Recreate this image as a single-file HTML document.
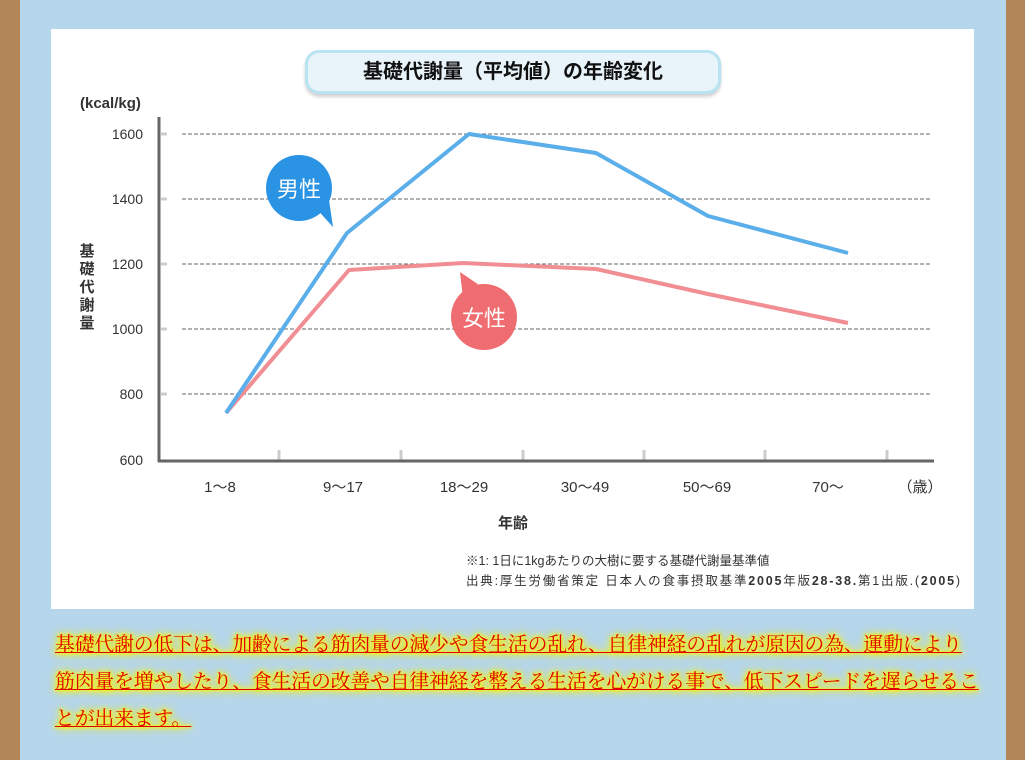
<!DOCTYPE html>
<html><head><meta charset="utf-8"><style>
html,body{margin:0;padding:0}
body{width:1025px;height:760px;position:relative;overflow:hidden;background:#b6d6ec;font-family:"Liberation Sans","Noto Sans CJK JP",sans-serif}
.brownL{position:absolute;left:0;top:0;width:20px;height:760px;background:#b3865a}
.brownR{position:absolute;left:1006px;top:0;width:19px;height:760px;background:#b3865a}
.panel{position:absolute;left:51px;top:29px;width:923px;height:580px;background:#fff}
.title{position:absolute;left:305px;top:50px;width:410px;height:38px;border:3px solid #b8e4f1;border-radius:14px;background:#e8f4f9;box-shadow:0 3px 3px rgba(0,0,0,.18);text-align:center;font-weight:bold;font-size:20px;line-height:38px;color:#111}
.txt{position:absolute;left:55px;top:627px;width:950px;font-family:"Liberation Serif","Noto Serif CJK SC",serif;font-size:19.9px;letter-spacing:-0.2px;line-height:37px;color:#e00000;text-decoration:underline;text-shadow:0 0 2px #f0f020,0 0 3px #f0f020,0 0 5px #f0f020,0 0 7px #f0f020,0 0 9px #f0f020,0 0 11px #eef020;white-space:nowrap}
</style></head><body>
<div class="brownL"></div><div class="brownR"></div>
<div class="panel"></div>
<div class="title">基礎代謝量（平均値）の年齢変化</div>
<svg width="1025" height="760" style="position:absolute;left:0;top:0" font-family="Liberation Sans, Noto Sans CJK JP, sans-serif">
<text x="80" y="108" font-size="15" font-weight="bold" fill="#333">(kcal/kg)</text>
<g stroke="#666" stroke-width="1" stroke-dasharray="4,2">
<line x1="182" y1="134" x2="930" y2="134"/><line x1="182" y1="199" x2="930" y2="199"/>
<line x1="182" y1="264" x2="930" y2="264"/><line x1="182" y1="329" x2="930" y2="329"/>
<line x1="182" y1="394" x2="930" y2="394"/></g>
<g stroke="#ccc" stroke-width="3"><line x1="161" y1="134" x2="167" y2="134"/><line x1="161" y1="199" x2="167" y2="199"/><line x1="161" y1="264" x2="167" y2="264"/><line x1="161" y1="329" x2="167" y2="329"/><line x1="161" y1="394" x2="167" y2="394"/>
<line x1="279" y1="450" x2="279" y2="460"/><line x1="401" y1="450" x2="401" y2="460"/><line x1="523" y1="450" x2="523" y2="460"/><line x1="644" y1="450" x2="644" y2="460"/><line x1="765" y1="450" x2="765" y2="460"/><line x1="887" y1="450" x2="887" y2="460"/></g>
<line x1="159" y1="117" x2="159" y2="462" stroke="#666" stroke-width="3"/>
<line x1="158" y1="461" x2="934" y2="461" stroke="#666" stroke-width="3"/>
<g font-size="14" fill="#333" text-anchor="end"><text x="143" y="139">1600</text><text x="143" y="204">1400</text><text x="143" y="269">1200</text><text x="143" y="334">1000</text><text x="143" y="399">800</text><text x="143" y="465">600</text></g>
<g font-size="15" font-weight="bold" fill="#333" text-anchor="middle"><text x="87" y="256">基</text><text x="87" y="274">礎</text><text x="87" y="292">代</text><text x="87" y="310">謝</text><text x="87" y="328">量</text></g>
<g font-size="15" fill="#333" text-anchor="middle"><text x="220" y="492">1〜8</text><text x="343" y="492">9〜17</text><text x="464" y="492">18〜29</text><text x="585" y="492">30〜49</text><text x="707" y="492">50〜69</text><text x="828" y="492">70〜</text><text x="920" y="492">（歳）</text></g>
<text x="513" y="528" font-size="15" font-weight="bold" fill="#333" text-anchor="middle">年齢</text>
<text x="466" y="565" font-size="12.5" fill="#333">※1:  1日に1kgあたりの大樹に要する基礎代謝量基準値</text>
<text x="466" y="585" font-size="12.5" fill="#333" textLength="494" lengthAdjust="spacing">出典:厚生労働省策定  日本人の食事摂取基準<tspan font-weight="bold">2005</tspan>年版<tspan font-weight="bold">28-38.</tspan>第1出版.(<tspan font-weight="bold">2005</tspan>)</text>
<polyline points="226,413 349,270 463,263 596,269 708,294 848,323" fill="none" stroke="#f08e93" stroke-width="4" stroke-linejoin="round"/>
<polyline points="226,413 347,233 469,134 596,153 708,216 848,253" fill="none" stroke="#5aaee9" stroke-width="4" stroke-linejoin="round"/>
<circle cx="299" cy="188" r="33" fill="#2a93e3"/><polygon points="314,206 329,200 333,227" fill="#2a93e3"/>
<text x="299" y="197" font-size="22" fill="#fff" text-anchor="middle">男性</text>
<circle cx="484" cy="317" r="33" fill="#ef6d70"/><polygon points="460,272 482,287 463,298" fill="#ef6d70"/>
<text x="484" y="326" font-size="22" fill="#fff" text-anchor="middle">女性</text>
</svg>
<div class="txt">基礎代謝の低下は、加齢による筋肉量の減少や食生活の乱れ、自律神経の乱れが原因の為、運動により<br>筋肉量を増やしたり、食生活の改善や自律神経を整える生活を心がける事で、低下スピードを遅らせるこ<br>とが出来ます。</div>
</body></html>
